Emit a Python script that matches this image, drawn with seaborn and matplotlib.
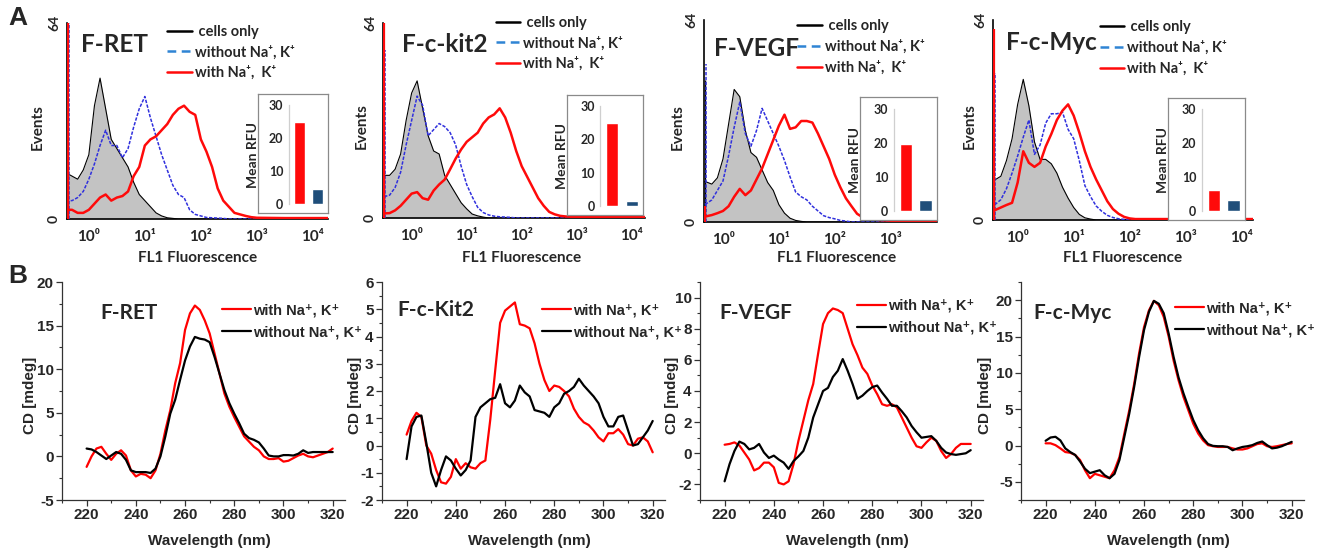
import matplotlib
matplotlib.use("Agg")
import matplotlib.pyplot as plt
from matplotlib.lines import Line2D
from matplotlib.ticker import MultipleLocator
import seaborn as sns

# ---------------- data: flow cytometry (A) ----------------
PANELS_A = ["F-RET", "F-c-kit2", "F-VEGF", "F-c-Myc"]

# bin centres, log10(FL1)
LOG_FL = [-0.5, -0.4, -0.3, -0.2, -0.1, 0.0, 0.1, 0.2, 0.3, 0.4,
          0.5, 0.6, 0.7, 0.8, 0.9, 1.0, 1.1, 1.2, 1.3, 1.4,
          1.5, 1.6, 1.7, 1.8, 1.9, 2.0, 2.1, 2.2, 2.3, 2.4,
          2.5, 2.6, 2.7, 2.8, 2.9, 3.0, 3.5, 4.3]

RET_CELLS = [15, 15, 14, 13, 16, 21, 37, 46, 36, 26,
             23, 20, 17, 12, 8, 6, 4, 2, 1, 0.4,
             0.2, 0, 0, 0, 0, 0, 0, 0, 0, 0,
             0, 0, 0, 0, 0, 0, 0, 0]
RET_WITHOUT = [6, 6, 6, 7, 9, 13, 18, 24, 29, 24,
               24, 20, 23, 30, 36, 40, 33, 27, 21, 16,
               11, 8, 7, 3, 1.5, 1, 0.5, 0.4, 0.3, 0.2,
               0, 0, 0, 0, 0, 0, 0, 0]
RET_WITH = [3, 3, 3, 2, 2, 3, 5, 7, 8, 6,
            7, 7.5, 9, 14, 17, 24, 26, 27, 29, 31,
            34, 36, 37, 35, 34, 26, 22, 17, 10, 6,
            4, 2, 1.5, 1, 0.6, 0.4, 0.3, 0.3]

KIT_CELLS = [14, 14, 16, 21, 32, 41, 45, 36, 27, 22,
             21, 14, 11, 8, 5, 3, 1.3, 0.7, 0.3, 0,
             0, 0, 0, 0, 0, 0, 0, 0, 0, 0,
             0, 0, 0, 0, 0, 0, 0, 0]
KIT_WITHOUT = [7, 7.5, 10, 15, 24, 32, 40, 37, 27, 29,
               31, 30, 28, 24, 17, 11, 7, 3.5, 1.8, 1,
               0.6, 0.4, 0.3, 0.2, 0, 0, 0, 0, 0, 0,
               0, 0, 0, 0, 0, 0, 0, 0]
KIT_WITH = [1.5, 1.6, 2.5, 4, 6, 8, 8.5, 6.5, 6, 9,
            11, 12.6, 16, 19.5, 22.5, 25, 26.5, 28, 31, 33,
            34, 36, 33, 28, 22, 17, 13.5, 10, 6.5, 4,
            2, 1.2, 0.7, 0.5, 0.4, 0.3, 0.3, 0.3]

VEGF_CELLS = [13, 13, 12.7, 12, 14, 20, 31, 42, 39.7, 29,
              22, 20.5, 16.5, 12.5, 10, 5.5, 2.8, 1.2, 0.5, 0.2,
              0, 0, 0, 0, 0, 0, 0, 0, 0, 0,
              0, 0, 0, 0, 0, 0, 0, 0]
VEGF_WITHOUT = [5.5, 5.5, 5.8, 7, 10, 13, 21, 30, 38, 28,
                24, 29, 36, 32, 28, 24, 19.5, 14.3, 9.5, 8,
                7, 5, 3.5, 2, 1.4, 1, 0.5, 0.3, 0, 0,
                0, 0, 0, 0, 0, 0, 0, 0]
VEGF_WITH = [1.5, 1.5, 1.8, 2.2, 2.8, 3.5, 5, 8, 10.5, 8.5,
             10, 13.5, 17, 21.5, 26, 30.5, 34, 29.5, 30, 32,
             32, 31.5, 28, 24, 20, 15, 11, 7.5, 5, 2.6,
             1.5, 1, 0.8, 0.6, 0.5, 0.4, 0.3, 0.3]

MYC_CELLS = [12.5, 12.9, 14, 19, 26, 37, 45, 36.6, 25, 19.4,
             19.4, 18, 15, 10.5, 7, 4, 1.8, 0.7, 0.3, 0,
             0, 0, 0, 0, 0, 0, 0, 0, 0, 0,
             0, 0, 0, 0, 0, 0, 0, 0]
MYC_WITHOUT = [5, 5, 6.5, 10, 15, 20.5, 26.5, 32, 21, 24,
               31, 34, 34, 34.5, 29, 26, 19, 11, 7.5, 4.5,
               2.8, 1.5, 0.8, 0.4, 0.2, 0, 0, 0, 0, 0,
               0, 0, 0, 0, 0, 0, 0, 0]
MYC_WITH = [3, 3.2, 4, 4.8, 5.5, 12, 22, 18.3, 17, 18.3,
            23.5, 27.5, 32, 35, 37, 33.4, 28, 22, 17, 13,
            9.5, 6, 3.5, 2, 1, 0.5, 0.3, 0.3, 0.3, 0.3,
            0.3, 0.3, 0.3, 0.3, 0.3, 0.3, 0.3, 0.3]

# off-scale first bin (cells only, without, with)
EDGE_COUNTS = [[38, 64, 64], [38, 55, 64], [45, 50, 5], [40, 47, 61]]

# inset bar values: mean RFU (with Na+/K+, without)
RFU_WITH = [25, 25, 19.5, 6]
RFU_WITHOUT = [4.5, 1.5, 3.2, 3.2]

# ---------------- data: CD spectra (B) ----------------
PANELS_B = ["F-RET", "F-c-Kit2", "F-VEGF", "F-c-Myc"]
WAVELENGTH = list(range(220, 321, 2))

RET_CD_WITH = [-1.2, 0, 0.9, 1.1, 0.3, -0.4, 0.3, 0.7, 0.1, -1.6,
               -2.3, -2.0, -2.1, -2.5, -1.6, 0.3, 3.0, 5.3, 8.4, 10.7,
               14.5, 16.4, 17.3, 16.8, 15.6, 14.1, 11.8, 9.5, 7.2, 5.7,
               4.5, 3.4, 2.3, 1.7, 1.1, 0.7, 0, -0.3, -0.3, -0.2,
               -0.6, -0.5, -0.2, 0.1, 0.3, 0, -0.1, 0.1, 0.3, 0.5,
               0.9]
RET_CD_WITHOUT = [0.9, 0.8, 0.5, 0.1, -0.3, 0.1, 0.5, 0.3, -0.4, -1.6,
                  -1.8, -1.8, -1.8, -1.9, -1.4, 0, 2.3, 4.9, 6.5, 8.8,
                  11.0, 12.6, 13.7, 13.5, 13.4, 13.1, 11.4, 9.5, 7.6, 6.1,
                  4.9, 3.8, 2.6, 2.1, 1.9, 1.6, 0.9, 0.1, 0, 0,
                  0.15, 0.15, 0.1, 0.3, 0.7, 0.4, 0.5, 0.5, 0.5, 0.5,
                  0.5]

KIT_CD_WITH = [0.4, 0.9, 1.2, 1.05, 0, -0.3, -0.9, -1.35, -1.4, -1.15,
               -0.5, -0.85, -0.65, -0.8, -0.85, -0.65, -0.55, 0.95, 2.75, 4.5,
               4.95, 5.1, 5.25, 4.45, 4.4, 4.3, 3.75, 3.0, 2.4, 2.0,
               2.2, 2.15, 2.0, 1.8, 1.35, 1.05, 0.85, 0.75, 0.55, 0.3,
               0.15, 0.45, 0.45, 0.6, 0.4, 0.05, 0, 0.25, 0.3, 0.15,
               -0.25]
KIT_CD_WITHOUT = [-0.5, 0.7, 1.05, 1.1, 0.1, -1.0, -1.5, -0.9, -0.4, -0.55,
                  -0.85, -1.1, -0.9, -0.55, 1.05, 1.4, 1.55, 1.7, 1.75, 2.25,
                  1.55, 1.4, 1.65, 2.2, 1.95, 1.8, 1.3, 1.25, 1.2, 1.05,
                  1.4, 1.55, 1.9, 2.0, 2.15, 2.45, 2.2, 2.0, 1.8, 1.55,
                  1.05, 0.7, 0.7, 1.05, 1.1, 0.55, 0, 0.05, 0.3, 0.55,
                  0.9]

VEGF_CD_WITH = [0.55, 0.6, 0.7, 0.5, 0.05, -0.4, -1.1, -0.95, -0.6, -0.6,
                -0.9, -1.9, -2.0, -1.8, -0.7, 0.8, 2.1, 3.4, 4.45, 6.4,
                8.3, 9.0, 9.3, 9.2, 9.0, 8.0, 7.0, 6.3, 5.5, 5.1,
                4.35, 3.8, 3.15, 3.05, 3.15, 2.95, 2.3, 1.65, 1.0, 0.45,
                0.35, 0.7, 1.0, 0.8, 0.15, -0.3, -0.05, 0.35, 0.6, 0.6,
                0.6]
VEGF_CD_WITHOUT = [-1.8, -0.7, 0.15, 0.75, 0.6, 0.25, 0.35, 0.6, 0.05, -0.3,
                   -0.15, -0.4, -0.6, -1.0, -0.5, -0.2, 0.15, 1.0, 2.3, 3.15,
                   4.0, 4.2, 4.9, 5.3, 6.05, 5.3, 4.45, 3.5, 3.7, 4.0,
                   4.25, 4.35, 3.9, 3.5, 3.05, 3.05, 2.7, 2.3, 1.75, 1.35,
                   1.0, 1.05, 1.1, 0.8, 0.35, 0.05, -0.05, -0.1, -0.05, 0,
                   0.2]

MYC_CD_WITH = [0.3, 0.3, 0.05, -0.4, -0.9, -1.0, -1.3, -2.0, -3.4, -4.5,
               -3.9, -4.1, -4.3, -4.5, -3.4, -1.6, 1.65, 4.85, 8.5, 12.7,
               16.3, 18.6, 19.9, 19.3, 17.7, 15.0, 11.7, 9.0, 6.7, 4.85,
               3.0, 1.65, 0.7, 0.05, -0.1, -0.2, -0.2, -0.2, -0.4, -0.55,
               -0.55, -0.4, -0.1, 0.2, 0.3, -0.1, -0.2, -0.1, 0.05, 0.2,
               0.3]
MYC_CD_WITHOUT = [0.65, 1.1, 1.2, 0.7, -0.4, -0.9, -1.3, -2.2, -3.2, -3.8,
                  -3.6, -3.4, -4.1, -4.5, -3.9, -2.0, 1.2, 4.4, 8.1, 12.2,
                  15.9, 18.4, 19.9, 19.5, 18.2, 15.4, 12.2, 9.4, 7.2, 5.3,
                  3.5, 2.1, 1.0, 0.2, -0.05, -0.1, -0.1, -0.2, -0.65, -0.4,
                  -0.2, -0.1, 0.05, 0.35, 0.55, 0.05, -0.4, -0.3, -0.1, 0.2,
                  0.5]

FACS_CELLS = [RET_CELLS, KIT_CELLS, VEGF_CELLS, MYC_CELLS]
FACS_WITHOUT = [RET_WITHOUT, KIT_WITHOUT, VEGF_WITHOUT, MYC_WITHOUT]
FACS_WITH = [RET_WITH, KIT_WITH, VEGF_WITH, MYC_WITH]
CD_WITH = [RET_CD_WITH, KIT_CD_WITH, VEGF_CD_WITH, MYC_CD_WITH]
CD_WITHOUT = [RET_CD_WITHOUT, KIT_CD_WITHOUT, VEGF_CD_WITHOUT, MYC_CD_WITHOUT]

# ---------------- layout (pixels: left, top, right, bottom) ----------------
W, H = 1322, 552
FACS_AX = [(67, 23, 328, 219), (383, 23, 645, 218), (704, 20, 937, 222), (993, 20, 1253, 220)]
FACS_INSET = [(258, 94, 328, 213), (567, 95, 643, 215), (860, 97, 937, 220), (1168, 98, 1245, 220)]
FACS_XLIM = [(-0.39, 4.27), (-0.52, 4.24), (-0.34, 3.83), (-0.44, 4.2)]
FACS_TITLE = [(0.055, 0.89), (0.072, 0.89), (0.045, 0.86), (0.05, 0.885)]
FACS_LEG = [(0.383, 0.85), (0.43, 0.895), (0.40, 0.866), (0.41, 0.86)]
FACS_YLAB = [-0.084, -0.053, -0.082, -0.062]
FACS_XLAB = [(0.5, -0.163), (0.53, -0.17), (0.57, -0.144), (0.5, -0.155)]

CD_AX = [(62, 282, 345, 500), (382, 282, 665, 500), (700, 282, 983, 500), (1021, 282, 1304, 500)]
CD_YLIM = [(-5, 20), (-2, 6), (-3, 11), (-7.5, 22.5)]
CD_MAJOR = [5, 1, 2, 5]
CD_MINOR = [2.5, 0.5, 1, 2.5]
CD_TITLE = [(0.134, 0.86), (0.053, 0.87), (0.067, 0.86), (0.042, 0.86)]
CD_LEG = [(0.565, 0.82), (0.565, 0.82), (0.555, 0.84), (0.544, 0.83)]
CD_YLAB = [-0.088, -0.071, -0.074, -0.102]

RED = "#ff0a0a"
BLUE_LINE = "#3030dd"
BLUE_LEG = "#2f84d4"
GRAY_FILL = "#c3c3c3"
NAVY = "#1f4e7a"

LATO = ["Lato", "DejaVu Sans"]
ARIAL = ["Liberation Sans", "DejaVu Sans"]


def px_box(l, t, r, b):
    return [l / W, 1 - b / H, (r - l) / W, (b - t) / H]


sns.set_theme(style="white")
plt.rcParams["font.family"] = ARIAL
plt.rcParams["font.weight"] = "bold"
plt.rcParams["axes.unicode_minus"] = False

fig = plt.figure(figsize=(W / 100, H / 100), dpi=100)

# ---------------- row A ----------------
for i, name in enumerate(PANELS_A):
    ax = fig.add_axes(px_box(*FACS_AX[i]))
    x0, x1 = FACS_XLIM[i]
    ax.fill_between(LOG_FL, 0, FACS_CELLS[i], color=GRAY_FILL, lw=0, zorder=1)
    sns.lineplot(x=LOG_FL, y=FACS_CELLS[i], color="black", lw=0.8, ax=ax, zorder=2)
    sns.lineplot(x=LOG_FL, y=FACS_WITHOUT[i], color=BLUE_LINE, lw=1.1,
                 linestyle=(0, (2.2, 1.0)), ax=ax, zorder=3)
    sns.lineplot(x=LOG_FL, y=FACS_WITH[i], color=RED, lw=1.8, ax=ax, zorder=4)
    edge = EDGE_COUNTS[i]
    ax.vlines(x0 + 0.02, 0, edge[0], color="black", lw=0.9, zorder=2)
    ax.vlines(x0 + 0.03, 0, edge[1], color=BLUE_LINE, lw=1.1, linestyles=(0, (2.2, 1.0)), zorder=3)
    ax.vlines(x0 + 0.02, 0, edge[2], color=RED, lw=1.6, zorder=4)

    ax.set_xlim(x0, x1)
    ax.set_ylim(0, 64)
    decades = [d for d in range(5) if d <= x1]
    sup = ["⁰", "¹", "²", "³", "⁴"]
    ax.set_xticks(decades, ["10" + sup[d] for d in decades],
                  fontfamily=LATO, fontsize=11, fontweight="bold")
    ax.set_yticks([0, 16, 32, 48, 64], ["0", "", "", "", "64"], rotation=90, va="center",
                  fontfamily=LATO, fontsize=10, fontweight="bold")
    ax.tick_params(axis="both", length=3, width=0.8, color="#555555", direction="out")
    ax.tick_params(axis="x", pad=5)
    ax.tick_params(axis="y", pad=2)
    for s in ("top", "right"):
        ax.spines[s].set_visible(False)
    for s in ("left", "bottom"):
        ax.spines[s].set_color("black")
        ax.spines[s].set_linewidth(1.2)
    ax.set_xlabel("FL1 Fluorescence", fontfamily=LATO, fontsize=11, fontweight="bold")
    ax.xaxis.set_label_coords(*FACS_XLAB[i])
    ax.set_ylabel("Events", fontfamily=LATO, fontsize=11, fontweight="bold")
    ax.yaxis.set_label_coords(FACS_YLAB[i], 0.47)
    ax.text(*FACS_TITLE[i], name, transform=ax.transAxes, fontfamily=LATO, fontsize=17.5,
            fontweight="bold", va="center", ha="left")

    handles = [Line2D([], [], color="black", lw=1.8),
               Line2D([], [], color=BLUE_LEG, lw=1.8, ls=(0, (3.5, 2.2))),
               Line2D([], [], color=RED, lw=1.8)]
    labels = [" cells only", "without Na⁺, K⁺", "with Na⁺,  K⁺"]
    leg = ax.legend(handles, labels, loc="center left", bbox_to_anchor=FACS_LEG[i],
                    frameon=False, handlelength=1.7, handletextpad=0.2, labelspacing=0.45,
                    borderpad=0, borderaxespad=0,
                    prop={"family": LATO, "size": 10.5, "weight": "bold"})
    leg.set_zorder(6)

    # inset with mean RFU bars
    frame = fig.add_axes(px_box(*FACS_INSET[i]))
    frame.set_facecolor("white")
    frame.set_xticks([])
    frame.set_yticks([])
    for s in frame.spines.values():
        s.set_color("#8a8a8a")
        s.set_linewidth(0.9)
    inner = frame.inset_axes([0.44, 0.076, 0.54, 0.83])
    inner.patch.set_alpha(0)
    sns.barplot(x=["with", "without"], y=[RFU_WITH[i], RFU_WITHOUT[i]],
                hue=["with", "without"], palette=[RED, NAVY], legend=False,
                width=0.62, ax=inner, saturation=1)
    inner.set_xlim(-0.6, 1.5)
    inner.set_ylim(0, 30)
    inner.set_xticks([])
    inner.set_yticks([0, 10, 20, 30], ["0", "10", "20", "30"],
                     fontfamily=LATO, fontsize=9, fontweight="bold")
    inner.tick_params(axis="y", length=0, pad=4)
    for s in ("top", "right", "bottom"):
        inner.spines[s].set_visible(False)
    inner.spines["left"].set_color("#cfcfcf")
    inner.spines["left"].set_linewidth(0.9)
    inner.set_xlabel("")
    inner.set_ylabel("Mean RFU", fontfamily=LATO, fontsize=10, fontweight="bold")
    inner.yaxis.set_label_coords(-0.79, 0.5)

# ---------------- row B ----------------
for i, name in enumerate(PANELS_B):
    ax = fig.add_axes(px_box(*CD_AX[i]))
    sns.lineplot(x=WAVELENGTH, y=CD_WITH[i], color="#ff0000", lw=1.6, ax=ax,
                 label="with Na⁺, K⁺")
    sns.lineplot(x=WAVELENGTH, y=CD_WITHOUT[i], color="black", lw=1.6, ax=ax,
                 label="without Na⁺, K⁺")
    ax.set_xlim(210, 325)
    ax.set_ylim(*CD_YLIM[i])
    ax.xaxis.set_major_locator(MultipleLocator(20))
    ax.xaxis.set_minor_locator(MultipleLocator(10))
    ax.yaxis.set_major_locator(MultipleLocator(CD_MAJOR[i]))
    ax.yaxis.set_minor_locator(MultipleLocator(CD_MINOR[i]))
    ax.tick_params(axis="both", which="major", length=4, width=0.9, direction="out",
                   color="#333333", labelsize=11, pad=2, bottom=True, left=True)
    ax.tick_params(axis="both", which="minor", length=2.5, width=0.8, direction="out",
                   color="#333333", bottom=True, left=True)
    for s in ("top", "right"):
        ax.spines[s].set_visible(False)
    for s in ("left", "bottom"):
        ax.spines[s].set_color("#333333")
        ax.spines[s].set_linewidth(0.9)
    ax.set_xlabel("Wavelength (nm)", fontsize=11, fontweight="bold")
    ax.xaxis.set_label_coords(0.52, -0.155)
    ax.set_ylabel("CD [mdeg]", fontsize=11, fontweight="bold")
    ax.yaxis.set_label_coords(CD_YLAB[i], 0.48)
    ax.text(*CD_TITLE[i], name, transform=ax.transAxes, fontfamily=LATO, fontsize=15,
            fontweight="bold", va="center", ha="left")
    ax.legend(loc="center left", bbox_to_anchor=CD_LEG[i], frameon=False,
              handlelength=2.0, handletextpad=0.15, labelspacing=0.55,
              borderpad=0, borderaxespad=0, prop={"size": 10.5, "weight": "bold"})

fig.text(8 / W, 1 - 18 / H, "A", fontsize=19, fontweight="bold", va="center", ha="left")
fig.text(8 / W, 1 - 276 / H, "B", fontsize=19, fontweight="bold", va="center", ha="left")

fig.savefig("out.png", dpi=100)
